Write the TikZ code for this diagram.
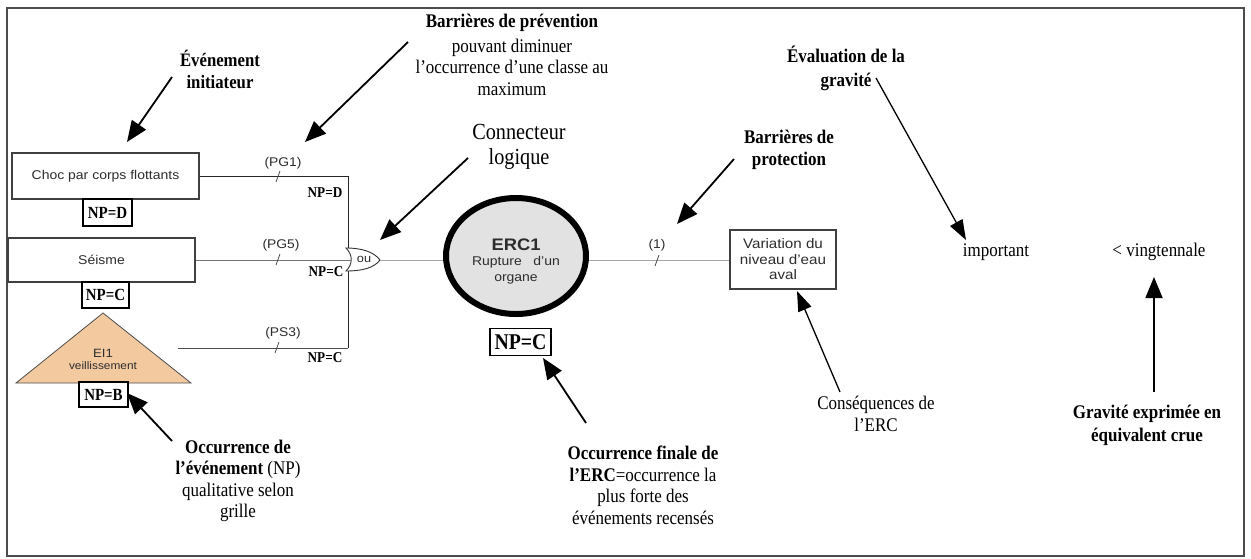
\documentclass[tikz,border=0pt]{standalone}
\usepackage{fontspec}
\setmainfont[FakeStretch=0.88]{Liberation Serif}
\setsansfont[FakeStretch=1.1]{Liberation Sans}
\usetikzlibrary{arrows.meta,shapes.geometric}
\definecolor{peach}{RGB}{243,202,160}
\definecolor{ercgray}{RGB}{226,226,226}
\definecolor{txtgray}{RGB}{45,45,45}
\tikzset{
  evbox/.style={draw=black!75, line width=1.1pt, fill=white, inner sep=0pt, font=\sffamily\fontsize{12.7}{16}\selectfont, text=txtgray},
  npbox/.style={draw=black, line width=1.4pt, fill=white, inner sep=0pt, font=\bfseries\fontsize{17}{18}\selectfont},
  nplbl/.style={font=\bfseries\fontsize{15}{16}\selectfont, inner sep=0pt},
  barlbl/.style={font=\sffamily\fontsize{12.6}{15}\selectfont, text=txtgray, inner sep=0pt},
  annot/.style={align=center, font=\fontsize{19.3}{21.5}\selectfont, inner sep=0pt},
  bigarrow/.style={line width=1.8pt, -{Triangle[length=21pt,width=17pt]}},
  thinarrow/.style={line width=1.3pt, -{Triangle[length=20pt,width=14pt]}},
  link/.style={line width=1pt},
  tick/.style={line width=0.8pt, black!70},
}
\begin{document}
\begin{tikzpicture}[x=1pt,y=-1pt]
\useasboundingbox (0,0) rectangle (1251,558);
\draw[line width=1.6pt, black!70] (7,8) rectangle (1244,556);

% --- initiating events
\node[evbox, minimum width=187pt, minimum height=46pt] (choc) at (105.5,176) {Choc par corps flottants};
\node[npbox, minimum width=49pt, minimum height=27pt] (npd) at (107.5,212.5) {NP=D};
\node[evbox, minimum width=187pt, minimum height=44pt] (seisme) at (101.5,260) {Séisme};
\node[npbox, minimum width=47pt, minimum height=26pt] (npc1) at (105.5,295) {NP=C};

% triangle EI1
\coordinate (triA) at (103,313);
\coordinate (triL) at (16,383);
\coordinate (triR) at (191,383);
\draw[fill=peach, draw=black!70, line width=0.8pt] (triA) -- (triR) -- (triL) -- cycle;
\node[align=center, inner sep=0pt, text=txtgray, font=\sffamily\fontsize{12}{13}\selectfont] (ei1) at (103,359)
  {EI1\\[-1pt]{\fontsize{10.8}{13}\selectfont veillissement}};
\node[npbox, minimum width=49pt, minimum height=25pt] (npb) at (103.5,394.5) {NP=B};

% --- OR gate
\coordinate (gTL) at (346,248);
\coordinate (gBL) at (346,271);
\coordinate (gTip) at (380,260);
\coordinate (gIn) at (351,260);
\draw[fill=white, draw=black!80, line width=0.9pt]
  (gTL) .. controls (362,248) and (374,252) .. (gTip)
  .. controls (374,268) and (362,271) .. (gBL)
  .. controls (353,264) and (353,255) .. (gTL) -- cycle;
\node[font=\sffamily\fontsize{11.6}{14}\selectfont, text=txtgray, inner sep=0pt] (ou) at (364,259) {ou};

% --- links from events to gate
\coordinate (jTop) at (348,176);
\coordinate (jBot) at (348,348);
\coordinate (ps3s) at (178,348);
\draw[link, black!85] (choc.east) -- (jTop) -- (348,248);
\draw[link, black!85] (348,271) -- (jBot);
\draw[link, black!55] (seisme.east) -- (gIn);
\draw[link, black!70] (ps3s) -- (jBot);

% ticks and labels on links
\draw[tick] (276,182) -- (280,171);
\draw[tick] (276,265) -- (280,254);
\draw[tick] (275,353) -- (279,342);
\node[barlbl] (pg1) at (283,163) {(PG1)};
\node[barlbl] (pg5) at (281,245) {(PG5)};
\node[barlbl] (ps3) at (283,333) {(PS3)};
\node[nplbl] (lnpd) at (325,193) {NP=D};
\node[nplbl] (lnpc1) at (326,272) {NP=C};
\node[nplbl] (lnpc2) at (325,358) {NP=C};

% --- ERC
\node[ellipse, draw=black, line width=6pt, fill=ercgray, minimum width=140pt, minimum height=116pt, inner sep=0pt] (erc) at (516,256) {};
\node[align=center, inner sep=0pt, text=txtgray, font=\sffamily\fontsize{12.7}{16}\selectfont] (erctxt) at (516,261)
  {{\bfseries\fontsize{16.7}{18}\selectfont ERC1}\\[-1pt]Rupture\ \ \ d'un\\organe};
\node[npbox, minimum width=61pt, minimum height=27pt, font=\bfseries\fontsize{22.5}{24}\selectfont] (npc2) at (520.5,342) {NP=C};
\draw[link, black!35] (gTip) -- (erc.west |- 0,260);

% --- consequence
\node[evbox, align=center, minimum width=106pt, minimum height=59pt, font=\sffamily\fontsize{13.8}{15.5}\selectfont] (var) at (783,259.5)
  {Variation du\\niveau d'eau\\aval};
\draw[link, black!35] (erc.east |- 0,260) -- (var.west |- 0,260);
\draw[tick] (655,266) -- (659,255);
\node[barlbl] (b1) at (657,245) {(1)};

% --- annotations
\node[annot, font=\bfseries\fontsize{19}{22}\selectfont] (tev) at (220,69) {Événement\\initiateur};
\node[annot] (tprev) at (512,55) {\textbf{Barrières de prévention}\\[3pt]pouvant diminuer\\l'occurrence d'une classe au\\maximum};
\node[annot, font=\fontsize{23}{25}\selectfont] (tconn) at (519,147) {Connecteur\\logique};
\node[annot] (tocc) at (238,481) {\textbf{Occurrence de}\\\textbf{l'événement} (NP)\\qualitative selon\\grille};
\node[annot] (tfin) at (643,485.5) {\textbf{Occurrence finale de}\\\textbf{l'ERC}=occurrence la\\plus forte des\\événements recensés};
\node[annot, font=\bfseries\fontsize{19.3}{22}\selectfont] (tprot) at (789,150) {Barrières de\\protection};
\node[annot, font=\bfseries\fontsize{19.3}{24}\selectfont] (teval) at (846,68) {Évaluation de la\\gravité};
\node[annot] (timp) at (996,252) {important};
\node[annot] (tvingt) at (1159,252) {< vingtennale};
\node[annot] (tcons) at (876,414) {Conséquences de\\l'ERC};
\node[annot, font=\bfseries\fontsize{19.3}{23}\selectfont] (tgrav) at (1147,425.5) {Gravité exprimée en\\équivalent crue};

% arrow end points
\coordinate (aEv1) at (172,77);   \coordinate (aEv2) at (127,142);
\coordinate (aPr1) at (408,42);   \coordinate (aPr2) at (305,142);
\coordinate (aCo1) at (468,158);  \coordinate (aCo2) at (380,240);
\coordinate (aOc1) at (172,441);  \coordinate (aOc2) at (127,393);
\coordinate (aFi1) at (586,423);  \coordinate (aFi2) at (543,358);
\coordinate (aPt1) at (734,159);  \coordinate (aPt2) at (677,224);
\coordinate (aEl1) at (876,78);   \coordinate (aEl2) at (966,240);
\coordinate (aCs1) at (840,392);  \coordinate (aCs2) at (797,291);
\coordinate (aGr1) at (1154,392); \coordinate (aGr2) at (1154,277);

\draw[bigarrow] (aEv1) -- (aEv2);
\draw[bigarrow] (aPr1) -- (aPr2);
\draw[bigarrow] (aCo1) -- (aCo2);
\draw[bigarrow] (aOc1) -- (aOc2);
\draw[bigarrow] (aFi1) -- (aFi2);
\draw[bigarrow] (aPt1) -- (aPt2);
\draw[thinarrow] (aEl1) -- (aEl2);
\draw[thinarrow] (aCs1) -- (aCs2);
\draw[bigarrow] (aGr1) -- (aGr2);
\end{tikzpicture}
\end{document}
